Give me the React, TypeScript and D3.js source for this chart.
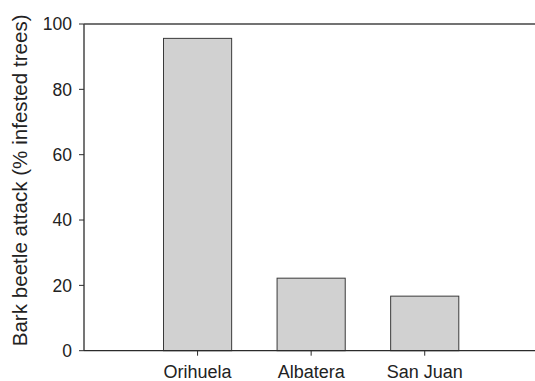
import { useEffect, useRef } from 'react';
import * as d3 from 'd3';

const sites = ['Orihuela', 'Albatera', 'San Juan'];
const attack = [95.6, 22.2, 16.7];
const yTicks = [0, 20, 40, 60, 80, 100];

const W = 535;
const H = 381;

const App = () => {
  const svgRef = useRef(null);

  useEffect(() => {
    const svg = d3.select(svgRef.current);
    svg.selectAll('*').remove();

    const left = 84;
    const top = 24;
    const bottom = 350.7;

    // empty slots at both ends so the bars sit one step in from the frame
    const x = d3.scalePoint()
      .domain(['_a', ...sites, '_b'])
      .range([left, 538.3]);
    const step = x.step();
    const barW = step * 0.6;

    const y = d3.scaleLinear().domain([0, 100]).range([bottom, top]);

    const ink = '#2b2b2b';
    const font = 'Liberation Sans, Arial, sans-serif';

    // bars
    svg.selectAll('.bar')
      .data(attack)
      .enter()
      .append('rect')
      .attr('class', 'bar')
      .attr('x', (d, i) => x(sites[i]) - barW / 2)
      .attr('y', d => y(d))
      .attr('width', barW)
      .attr('height', d => y(0) - y(d))
      .attr('fill', '#d1d1d1')
      .attr('stroke', '#3a3a3a')
      .attr('stroke-width', 1);

    // frame: left, bottom, top
    svg.append('line')
      .attr('x1', left).attr('x2', left)
      .attr('y1', top).attr('y2', bottom)
      .attr('stroke', ink).attr('stroke-width', 1.3);
    svg.append('line')
      .attr('x1', left).attr('x2', 540)
      .attr('y1', bottom).attr('y2', bottom)
      .attr('stroke', ink).attr('stroke-width', 1.3);
    svg.append('line')
      .attr('x1', left).attr('x2', 540)
      .attr('y1', top).attr('y2', top)
      .attr('stroke', '#444').attr('stroke-width', 1.3);

    // y ticks
    const yt = svg.append('g');
    yt.selectAll('line')
      .data(yTicks)
      .enter()
      .append('line')
      .attr('x1', left - 5).attr('x2', left)
      .attr('y1', d => y(d)).attr('y2', d => y(d))
      .attr('stroke', ink).attr('stroke-width', 1);
    yt.selectAll('text')
      .data(yTicks)
      .enter()
      .append('text')
      .attr('x', 72)
      .attr('y', d => y(d))
      .attr('dy', '0.36em')
      .attr('text-anchor', 'end')
      .attr('font-family', font)
      .attr('font-size', 17.5)
      .attr('fill', '#222')
      .text(d => d);

    // x ticks
    const xt = svg.append('g');
    xt.selectAll('line')
      .data(sites)
      .enter()
      .append('line')
      .attr('x1', d => x(d)).attr('x2', d => x(d))
      .attr('y1', bottom).attr('y2', bottom + 5)
      .attr('stroke', ink).attr('stroke-width', 1);
    xt.selectAll('text')
      .data(sites)
      .enter()
      .append('text')
      .attr('x', d => x(d))
      .attr('y', 377.5)
      .attr('text-anchor', 'middle')
      .attr('font-family', font)
      .attr('font-size', 18)
      .attr('fill', '#222')
      .text(d => d);

    // y title
    svg.append('text')
      .attr('transform', `translate(27, ${(top + bottom) / 2 - 7}) rotate(-90)`)
      .attr('text-anchor', 'middle')
      .attr('font-family', font)
      .attr('font-size', 20.6)
      .attr('fill', '#222')
      .text('Bark beetle attack (% infested trees)');
  }, []);

  return (
    <svg
      ref={svgRef}
      width={W}
      height={H}
      style={{ position: 'absolute', left: 0, top: 0, background: '#fff' }}
    ></svg>
  );
};

export default App;
